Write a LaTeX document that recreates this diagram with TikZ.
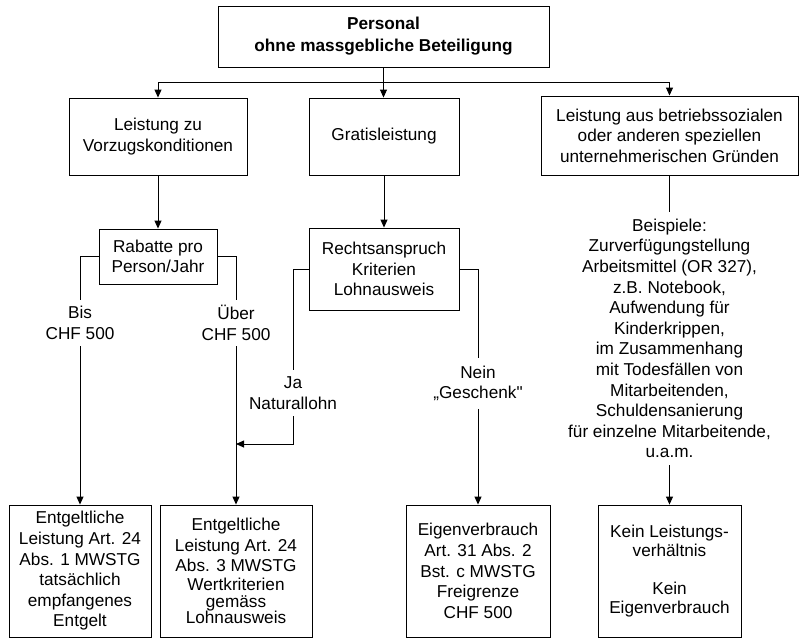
\documentclass[tikz,border=0pt]{standalone}
\usepackage{fontspec}
\setmainfont{Liberation Sans}
\newfontfamily\qfont{Liberation Sans}
\usetikzlibrary{arrows.meta}
\newcommand\diafont{\fontsize{17.2}{20.6}\selectfont}
\tikzset{
  box/.style={draw, rectangle, align=center, inner sep=0pt, font=\diafont},
  lbl/.style={align=center, inner sep=0pt, font=\diafont},
  arr/.style={-{Triangle[length=8pt,width=7pt]}},
  every path/.style={line width=0.9pt}
}
\begin{document}
\begin{tikzpicture}[x=1pt,y=-1pt]
\useasboundingbox (0,0) rectangle (802,638);

% boxes
\node[box, minimum width=331pt, minimum height=61pt] (top) at (383.5,36.5)
  {\textbf{Personal}\\[1.4pt]\textbf{ohne massgebliche Beteiligung}};
\node[box, minimum width=178pt, minimum height=77pt] (lz) at (158,136.5)
  {Leistung zu\\Vorzugskonditionen};
\node[box, minimum width=150pt, minimum height=77pt] (gratis) at (384,136.5)
  {Gratisleistung};
\node[box, minimum width=257pt, minimum height=79pt] (right) at (669.5,135.5)
  {Leistung aus betriebssozialen\\oder anderen speziellen\\unternehmerischen Gründen};
\node[box, minimum width=118pt, minimum height=55pt] (rab) at (158,256.5)
  {Rabatte pro\\Person/Jahr};
\node[box, minimum width=150pt, minimum height=82pt] (recht) at (384,269)
  {Rechtsanspruch\\Kriterien\\Lohnausweis};
\node[box, minimum width=142pt, minimum height=132pt] (b1) at (80,571)
  {Entgeltliche\\Leistung Art. 24\\Abs. 1 MWSTG\\tatsächlich\\empfangenes\\Entgelt};
\node[box, minimum width=152pt, minimum height=132pt] (b2) at (236,571)
  {Entgeltliche\\Leistung Art. 24\\Abs. 3 MWSTG\\[-1.5pt]Wertkriterien\\[-3.5pt]gemäss\\[-4.5pt]Lohnausweis};
\node[box, minimum width=144pt, minimum height=132pt] (b3) at (478,571)
  {Eigenverbrauch\\Art. 31 Abs. 2\\Bst. c MWSTG\\Freigrenze\\CHF 500};
\node[box, minimum width=143pt, minimum height=132pt,
      font=\fontsize{17.2}{19.2}\selectfont] (b4) at (669.5,571)
  {Kein Leistungs-\\verhältnis\\[19.2pt]Kein\\Eigenverbrauch};

% labels on connectors
\node[lbl, minimum height=46pt] (bis) at (80,323) {Bis\\CHF 500};
\node[lbl, minimum height=46pt] (uber) at (236,323) {Über\\CHF 500};
\node[lbl, minimum height=46pt] (ja) at (293,393) {Ja\\Naturallohn};
\node[lbl, minimum height=50pt] (nein) at (478,383.5) {Nein\\{\qfont „Geschenk"}};
\node[lbl, minimum height=253pt] (bsp) at (669.5,338.5)
  {Beispiele:\\Zurverfügungstellung\\Arbeitsmittel (OR 327),\\z.B. Notebook,\\Aufwendung für\\Kinderkrippen,\\im Zusammenhang\\mit Todesfällen von\\Mitarbeitenden,\\Schuldensanierung\\für einzelne Mitarbeitende,\\u.a.m.};

\coordinate (bus) at (383.5,82);
\coordinate (join) at (236,444);

% connectors
\draw (top.south) -- (bus);
\draw[arr] (bus) -| (lz.north);
\draw[arr] (bus) -- (bus |- gratis.north);
\draw[arr] (bus) -| (right.north);

\draw[arr] (lz.south) -- (rab.north);
\draw[arr] (gratis.south) -- (recht.north);
\draw (right.south) -- (bsp.north);
\draw[arr] (bsp.south) -- (b4.north);

\draw (rab.west) -| (bis.north);
\draw[arr] (bis.south) -- (b1.north);
\draw (rab.east) -| (uber.north);
\draw[arr] (uber.south) -- (b2.north);

\draw (recht.west) -| (ja.north);
\draw[arr] (ja.south) |- (join);
\draw (recht.east) -| (nein.north);
\draw[arr] (nein.south) -- (b3.north);
\end{tikzpicture}
\end{document}
